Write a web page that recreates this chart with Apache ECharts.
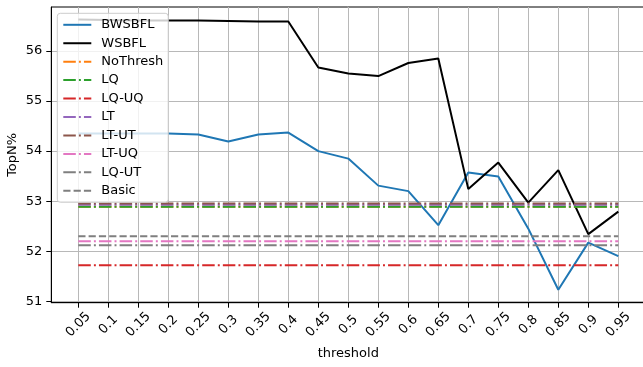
<!DOCTYPE html>
<html>
<head>
<meta charset="utf-8">
<script src="https://cdn.jsdelivr.net/npm/echarts@6/dist/echarts.min.js"></script>
<style>
html,body{margin:0;padding:0;background:#fff;}
#chart{width:643px;height:367px;}
</style>
</head>
<body>
<div id="chart"></div>
<script>
// ---- data ----
const thresholds = ['0.05','0.1','0.15','0.2','0.25','0.3','0.35','0.4','0.45','0.5','0.55','0.6','0.65','0.7','0.75','0.8','0.85','0.9','0.95'];
const yTicks = [51, 52, 53, 54, 55, 56];
const bwsbfl = [54.35,54.35,54.35,54.35,54.33,54.19,54.33,54.37,54.00,53.85,53.31,53.20,52.52,53.57,53.49,52.45,51.23,52.17,51.90];
const wsbfl  = [56.63,56.62,56.61,56.61,56.61,56.60,56.59,56.59,55.67,55.55,55.50,55.76,55.85,53.24,53.77,52.97,53.62,52.34,52.79];
// constant baselines (one value each, drawn across all thresholds)
const baselineNames  = ['NoThresh','LQ','LQ-UQ','LT','LT-UT','LT-UQ','LQ-UT','Basic'];
const baselineValues = [52.89, 52.89, 51.72, 52.93, 52.955, 52.20, 52.12, 52.30];

// ---- style ----
const FONT = 'DejaVu Sans';
const LW = 2;
const DASHDOT = [12.5, 3.1, 1.95, 3.1];
const DASHED = [7.2, 3.1];
const baselineColors = ['#ff7f0e','#2ca02c','#d62728','#9467bd','#8c564b','#e377c2','#7f7f7f','#7f7f7f'];
const baselineDash = [DASHDOT,DASHDOT,DASHDOT,DASHDOT,DASHDOT,DASHDOT,DASHDOT,DASHED];

const idx = thresholds.map((t, i) => i);
const pairs = arr => arr.map((v, i) => [i, v]);

const series = [
  {name:'BWSBFL', type:'line', data: pairs(bwsbfl), symbol:'none', lineStyle:{color:'#1f77b4', width:LW}, itemStyle:{color:'#1f77b4'}, z:2},
  {name:'WSBFL', type:'line', data: pairs(wsbfl), symbol:'none', lineStyle:{color:'#000000', width:LW}, itemStyle:{color:'#000000'}, z:2}
];
baselineNames.forEach((n, k) => {
  series.push({
    name: n, type:'line', symbol:'none',
    data: thresholds.map((t, i) => [i, baselineValues[k]]),
    lineStyle:{color: baselineColors[k], width: LW, type: baselineDash[k], cap:'butt'},
    itemStyle:{color: baselineColors[k]}, z:2
  });
});

const chart = echarts.init(document.getElementById('chart'), null, {renderer:'canvas'});
chart.setOption({
  animation:false,
  backgroundColor:'#ffffff',
  textStyle:{fontFamily:FONT},
  grid:{left:51.3, top:7, right:-2.3, bottom:64.3, outerBoundsMode:'none', containLabel:false,
        show:true, borderColor:'#000', borderWidth:1, backgroundColor:'transparent'},
  legend:{
    orient:'vertical', left:57.3, top:13.3,
    itemWidth:28, itemHeight:14, itemGap:5.44,
    padding:5,
    backgroundColor:'rgba(255,255,255,0.8)', borderColor:'#cccccc', borderWidth:1, borderRadius:3,
    itemStyle:{opacity:0, borderWidth:0},
    textStyle:{fontFamily:FONT, fontSize:13, color:'#000', padding:[0,0,0,5]},
    data: series.map(s => s.name)
  },
  xAxis:{
    type:'value', min:-0.9, max:18.9,
    name:'threshold', nameLocation:'middle', nameGap:44, nameMoveOverlap:false,
    nameTextStyle:{fontFamily:FONT, fontSize:13, color:'#000'},
    axisLine:{show:true, onZero:false, lineStyle:{color:'#000', width:1}},
    axisTick:{show:true, length:5, lineStyle:{color:'#000', width:1}, customValues: idx},
    axisLabel:{
      customValues: idx, rotate:45, align:'center', verticalAlign:'middle', margin:22,
      fontFamily:FONT, fontSize:13, color:'#000',
      formatter: v => thresholds[Math.round(v)]
    },
    splitLine:{show:true, lineStyle:{color:'#b8b8b8', width:1}}
  },
  yAxis:{
    type:'value', min:50.97, max:56.88,
    name:'TopN%', nameLocation:'middle', nameGap:32, nameMoveOverlap:false,
    nameTextStyle:{fontFamily:FONT, fontSize:13, color:'#000'},
    axisLine:{show:true, onZero:false, lineStyle:{color:'#000', width:1}},
    axisTick:{show:true, length:5, lineStyle:{color:'#000', width:1}, customValues: yTicks},
    axisLabel:{customValues: yTicks, margin:9, fontFamily:FONT, fontSize:13, color:'#000', formatter: v => String(Math.round(v))},
    splitLine:{show:true, lineStyle:{color:'#b8b8b8', width:1}}
  },
  series: series
});
</script>
</body>
</html>
